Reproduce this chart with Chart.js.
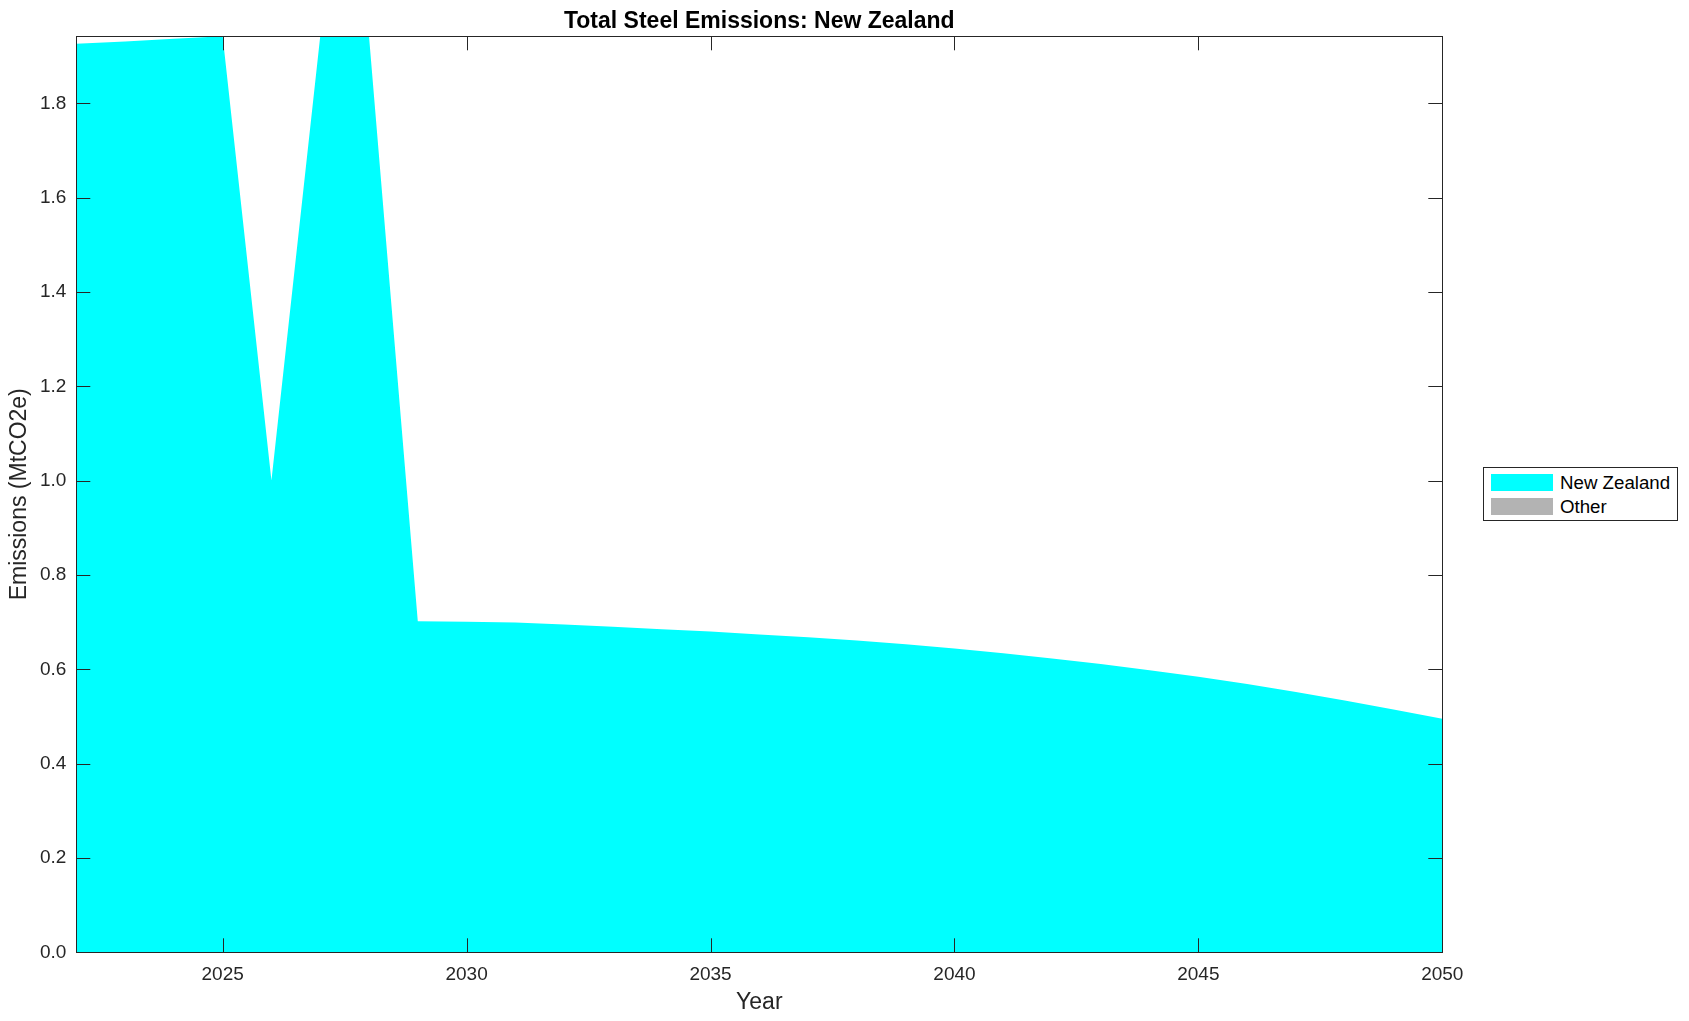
<!DOCTYPE html>
<html>
<head>
<meta charset="utf-8">
<script src="https://cdn.jsdelivr.net/npm/chart.js@4/dist/chart.umd.min.js"></script>
<style>
  body { margin:0; background:#fff; }
  #wrap { position:relative; width:1689px; height:1021px; }
  #legendBox { position:absolute; left:1483px; top:467px; width:193px; height:52px; border:1px solid #262626; background:#fff;
    font-family:"Liberation Sans", Arial, sans-serif; font-size:18.7px; color:#000; }
  .item { position:absolute; left:7px; height:17px; }
  .sw { position:absolute; left:0; top:0; width:62px; height:17px; }
  .lbl { position:absolute; left:69px; top:-2px; white-space:nowrap; line-height:21px; }
</style>
</head>
<body>
<div id="wrap">
  <canvas id="myChart" width="1689" height="1021"></canvas>
  <div id="legendBox"></div>
</div>
<script>
// data
years = [2022,2023,2024,2025,2026,2027,2028,2029,2030,2031,2032,2033,2034,2035,2036,2037,2038,2039,2040,2041,2042,2043,2044,2045,2046,2047,2048,2049,2050];
nzValues = [1.926,1.931,1.937,1.942,1.000,1.942,1.942,0.702,0.701,0.699,0.695,0.690,0.685,0.680,0.674,0.668,0.661,0.653,0.644,0.634,0.623,0.611,0.598,0.584,0.569,0.552,0.534,0.515,0.495];
otherValues = [0,0,0,0,0,0,0,0,0,0,0,0,0,0,0,0,0,0,0,0,0,0,0,0,0,0,0,0,0];
seriesNames = ['New Zealand','Other'];
seriesColors = ['#00ffff','#b3b3b3'];
xTicks = [2025,2030,2035,2040,2045,2050];
yTicks = [0,0.2,0.4,0.6,0.8,1.0,1.2,1.4,1.6,1.8];
yMax = 1.942;

var fontFam = '"Liberation Sans", Arial, sans-serif';
var axisCol = '#262626';

function toPoints(vals){
    return years.map((y,i)=>({x:y, y:vals[i]}));
}

// inward tick marks on all four sides + box, like the original
var boxTicks = {
    id:'boxTicks',
    afterDraw(chart){
        const c = chart.ctx, a = chart.chartArea;
        const xs = chart.scales.x, ys = chart.scales.y;
        const tl = 14;
        c.save();
        c.strokeStyle = axisCol;
        c.lineWidth = 1;
        c.beginPath();
        xTicks.forEach(v=>{
            const px = Math.round(xs.getPixelForValue(v))+0.5;
            c.moveTo(px, a.bottom); c.lineTo(px, a.bottom-tl);
            c.moveTo(px, a.top); c.lineTo(px, a.top+tl);
        });
        yTicks.forEach(v=>{
            const py = Math.round(ys.getPixelForValue(v))+0.5;
            c.moveTo(a.left, py); c.lineTo(a.left+tl, py);
            c.moveTo(a.right, py); c.lineTo(a.right-tl, py);
        });
        c.stroke();
        c.strokeRect(Math.round(a.left)+0.5, Math.round(a.top)+0.5, Math.round(a.right-a.left), Math.round(a.bottom-a.top));
        c.restore();
    }
};

var ctx = document.getElementById('myChart').getContext('2d');
var myChart = new Chart(ctx, {
    type: 'line',
    data: {
        datasets: [{
            label: seriesNames[0],
            data: toPoints(nzValues),
            backgroundColor: seriesColors[0],
            borderWidth: 0,
            pointRadius: 0,
            fill: 'origin'
        },
        {
            label: seriesNames[1],
            data: toPoints(otherValues),
            backgroundColor: seriesColors[1],
            borderWidth: 0,
            pointRadius: 0,
            fill: '-1'
        }]
    },
    options: {
        responsive: false,
        animation: false,
        layout: { padding: { top:0, left:0, bottom:0, right:246.7 } },
        plugins: {
            legend: { display:false },
            tooltip: { enabled:false }
        },
        scales: {
            x: {
                type: 'linear',
                min: 2022,
                max: 2050,
                grid: { display:false, drawTicks:false },
                border: { display:false },
                afterBuildTicks: s => { s.ticks = xTicks.map(v=>({value:v})); },
                afterFit: s => { s.height = 68.7; },
                ticks: { color: axisCol, padding: 11, font: { family: fontFam, size: 19 }, callback: v => String(v) },
                title: { display:true, text:'Year', color: axisCol, font: { family: fontFam, size: 23 }, padding: { top:0, bottom:5 } }
            },
            // top axis only carries the chart title, centred over the plot like the original
            xTop: {
                type: 'linear',
                position: 'top',
                min: 2022,
                max: 2050,
                grid: { display:false, drawTicks:false },
                border: { display:false },
                ticks: { display:false },
                afterFit: s => { s.height = 36.3; },
                title: { display:true, text:'Total Steel Emissions: New Zealand', color: '#000', font: { family: fontFam, size: 23, weight: 'bold' }, padding: { top:8, bottom:0 } }
            },
            y: {
                stacked: true,
                min: 0,
                max: yMax,
                grid: { display:false, drawTicks:false },
                border: { display:false },
                afterBuildTicks: s => { s.ticks = yTicks.map(v=>({value:v})); },
                afterFit: s => { s.width = 76.3; },
                ticks: { color: axisCol, padding: 10, font: { family: fontFam, size: 19 }, callback: v => v.toFixed(1) },
                title: { display:true, text:'Emissions (MtCO2e)', color: axisCol, font: { family: fontFam, size: 23 }, padding: { top:6, bottom:0 } }
            }
        }
    },
    plugins: [boxTicks]
});

// legend
var lb = document.getElementById('legendBox');
seriesNames.forEach((n,i)=>{
    var it = document.createElement('div');
    it.className = 'item';
    it.style.top = (6 + i*24) + 'px';
    it.innerHTML = '<div class="sw" style="background:'+seriesColors[i]+'"></div><div class="lbl">'+n+'</div>';
    lb.appendChild(it);
});
</script>
</body>
</html>
